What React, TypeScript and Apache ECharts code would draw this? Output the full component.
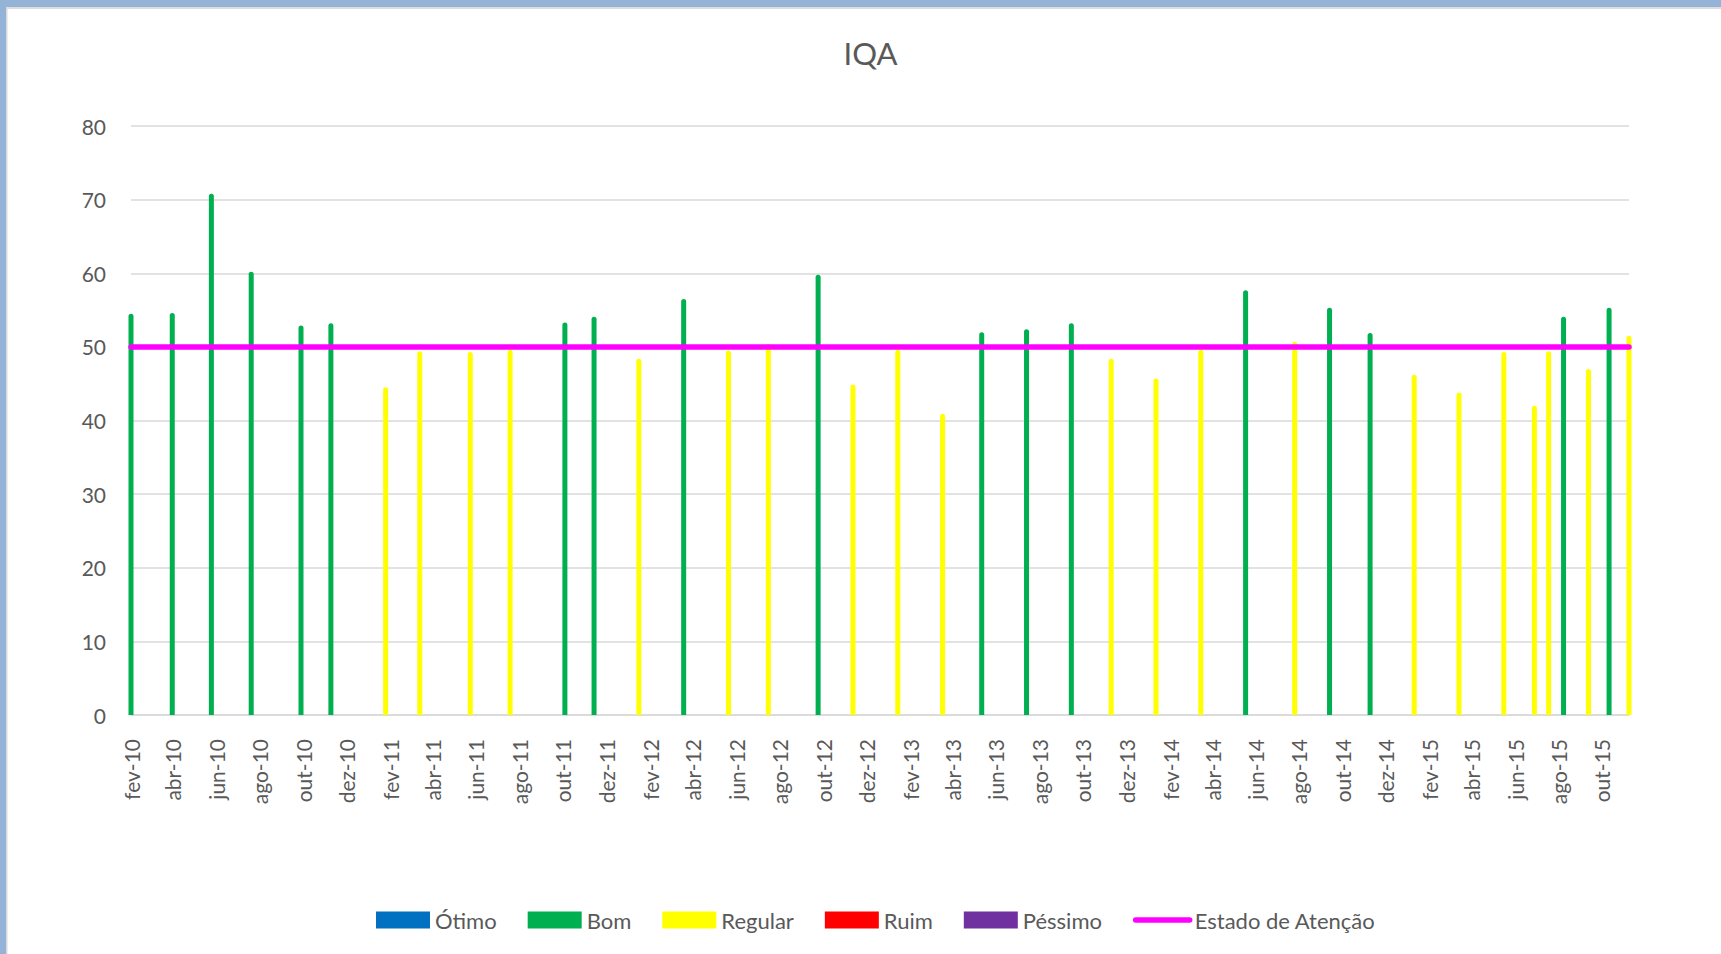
import React, { useEffect, useRef } from "react";
import * as echarts from "echarts";

// ---- data ----
const sampleDates = [
  "2010-02-01", "2010-03-31", "2010-05-25", "2010-07-20", "2010-09-28", "2010-11-09",
  "2011-01-25", "2011-03-14", "2011-05-24", "2011-07-19", "2011-10-04", "2011-11-14",
  "2012-01-16", "2012-03-19", "2012-05-21", "2012-07-16", "2012-09-24", "2012-11-12",
  "2013-01-14", "2013-03-18", "2013-05-12", "2013-07-14", "2013-09-15", "2013-11-10",
  "2014-01-12", "2014-03-16", "2014-05-18", "2014-07-26", "2014-09-13", "2014-11-09",
  "2015-01-10", "2015-03-14", "2015-05-16", "2015-06-28", "2015-07-18", "2015-08-08",
  "2015-09-12", "2015-10-11", "2015-11-08",
];

const iqaValues = [
  54.5, 54.6, 70.8, 60.2, 52.9, 53.2,
  44.5, 49.4, 49.3, 49.6, 53.3, 54.1,
  48.4, 56.5, 49.5, 50.4, 59.8, 44.9,
  49.6, 40.9, 52.0, 52.4, 53.2, 48.4,
  45.7, 49.6, 57.7, 50.7, 55.3, 51.9,
  46.2, 43.8, 49.3, 42.0, 49.4, 54.1,
  47.0, 55.3, 51.5,
];

const iqaClasses = [
  "Bom", "Bom", "Bom", "Bom", "Bom", "Bom",
  "Regular", "Regular", "Regular", "Regular", "Bom", "Bom",
  "Regular", "Bom", "Regular", "Regular", "Bom", "Regular",
  "Regular", "Regular", "Bom", "Bom", "Bom", "Regular",
  "Regular", "Regular", "Bom", "Regular", "Bom", "Bom",
  "Regular", "Regular", "Regular", "Regular", "Regular", "Bom",
  "Regular", "Bom", "Regular",
];

const classNames = ["Ótimo", "Bom", "Regular", "Ruim", "Péssimo"];
const classColors = ["#0070C0", "#00B050", "#FFFF00", "#FF0000", "#7030A0"];

const attentionName = "Estado de Atenção";
const attentionLevel = 50;
const attentionColor = "#FF00FF";

const tickLabels = [
  "fev-10", "abr-10", "jun-10", "ago-10", "out-10", "dez-10",
  "fev-11", "abr-11", "jun-11", "ago-11", "out-11", "dez-11",
  "fev-12", "abr-12", "jun-12", "ago-12", "out-12", "dez-12",
  "fev-13", "abr-13", "jun-13", "ago-13", "out-13", "dez-13",
  "fev-14", "abr-14", "jun-14", "ago-14", "out-14", "dez-14",
  "fev-15", "abr-15", "jun-15", "ago-15", "out-15",
];

const yMin = 0;
const yMax = 80;
const yInterval = 10;

// ---- helpers ----
const MONTHS: Record<string, number> = {
  jan: 0, fev: 1, mar: 2, abr: 3, mai: 4, jun: 5,
  jul: 6, ago: 7, set: 8, out: 9, nov: 10, dez: 11,
};
const DAY_MS = 86400000;
const t0 = Date.parse(sampleDates[0]);
const dayOf = (iso: string) => Math.round((Date.parse(iso) - t0) / DAY_MS);
const tickDay = (label: string) => {
  const [m, y] = label.split("-");
  return Math.round((Date.UTC(2000 + Number(y), MONTHS[m], 1) - t0) / DAY_MS);
};

const sampleDays = sampleDates.map(dayOf);
const maxDay = sampleDays[sampleDays.length - 1];
const tickDays = tickLabels.map(tickDay);
const labelByDay: Record<number, string> = {};
tickDays.forEach((d, i) => (labelByDay[d] = tickLabels[i]));

const FONT = 'Lato, "Open Sans", sans-serif';
const TEXT_COLOR = "#595959";
const GRID_COLOR = "#D9D9D9";

export default function App() {
  const ref = useRef<HTMLDivElement>(null);

  useEffect(() => {
    if (!ref.current) return;
    const chart = echarts.init(ref.current, undefined, { renderer: "svg" });

    const barSeries = classNames.map((name, ci) => ({
      name,
      type: "bar",
      barWidth: 5,
      barGap: "-100%",
      clip: true,
      itemStyle: { color: classColors[ci], borderRadius: [2.5, 2.5, 0, 0] },
      data: sampleDays
        .map((d, i) => (iqaClasses[i] === name ? [d, iqaValues[i]] : null))
        .filter((p) => p !== null),
      z: 2,
    }));

    const lineSeries = {
      name: attentionName,
      type: "line",
      symbol: "none",
      showSymbol: false,
      lineStyle: { color: attentionColor, width: 5.5, cap: "round" },
      itemStyle: { color: attentionColor },
      data: [
        [0, attentionLevel],
        [maxDay, attentionLevel],
      ],
      z: 5,
    };

    chart.setOption({
      animation: false,
      backgroundColor: "#FFFFFF",
      textStyle: { fontFamily: FONT },
      graphic: [
        { type: "rect", shape: { x: 0, y: 0, width: 1721, height: 7 }, style: { fill: "#95B3D7" }, silent: true },
        { type: "rect", shape: { x: 0, y: 7, width: 1721, height: 2 }, style: { fill: "#DCDCDC" }, silent: true },
        { type: "rect", shape: { x: 0, y: 0, width: 6, height: 954 }, style: { fill: "#95B3D7" }, silent: true },
        { type: "rect", shape: { x: 6, y: 9, width: 1.5, height: 945 }, style: { fill: "#D9D9D9" }, silent: true },
        {
          type: "text",
          x: 870.5,
          y: 53,
          style: {
            text: "IQA",
            fill: TEXT_COLOR,
            font: `31px ${FONT}`,
            textAlign: "center",
            textVerticalAlign: "middle",
          },
        },
      ],
      legend: {
        left: 376,
        top: 909,
        padding: 0,
        itemWidth: 54,
        itemHeight: 17,
        itemGap: 31,
        textStyle: { color: TEXT_COLOR, fontSize: 22, fontFamily: FONT },
        data: [
          ...classNames.map((n) => ({ name: n, icon: "rect" })),
          {
            name: attentionName,
            itemStyle: { opacity: 0, color: "rgba(0,0,0,0)", borderWidth: 0 },
            lineStyle: { width: 5.5, color: attentionColor, cap: "round", opacity: 1 },
          },
        ],
      },
      grid: { left: 131, right: 92, top: 126, bottom: 239, containLabel: false },
      xAxis: {
        type: "value",
        min: 0,
        max: maxDay,
        axisLine: { show: true, lineStyle: { color: GRID_COLOR, width: 1.5 } },
        axisTick: { show: false },
        splitLine: { show: false },
        axisLabel: {
          customValues: tickDays,
          rotate: 90,
          margin: 24,
          color: TEXT_COLOR,
          fontSize: 21,
          fontFamily: FONT,
          formatter: (v: number) => labelByDay[Math.round(v)] ?? "",
        },
      },
      yAxis: {
        type: "value",
        min: yMin,
        max: yMax,
        interval: yInterval,
        axisLine: { show: false },
        axisTick: { show: false },
        splitLine: { lineStyle: { color: GRID_COLOR, width: 1.5 } },
        axisLabel: { color: TEXT_COLOR, fontSize: 21, fontFamily: FONT, margin: 25 },
      },
      series: [...barSeries, lineSeries],
    });

    return () => chart.dispose();
  }, []);

  return (
    <div
      ref={ref}
      style={{ position: "fixed", left: 0, top: 0, width: 1721, height: 954, background: "#fff" }}
    />
  );
}
